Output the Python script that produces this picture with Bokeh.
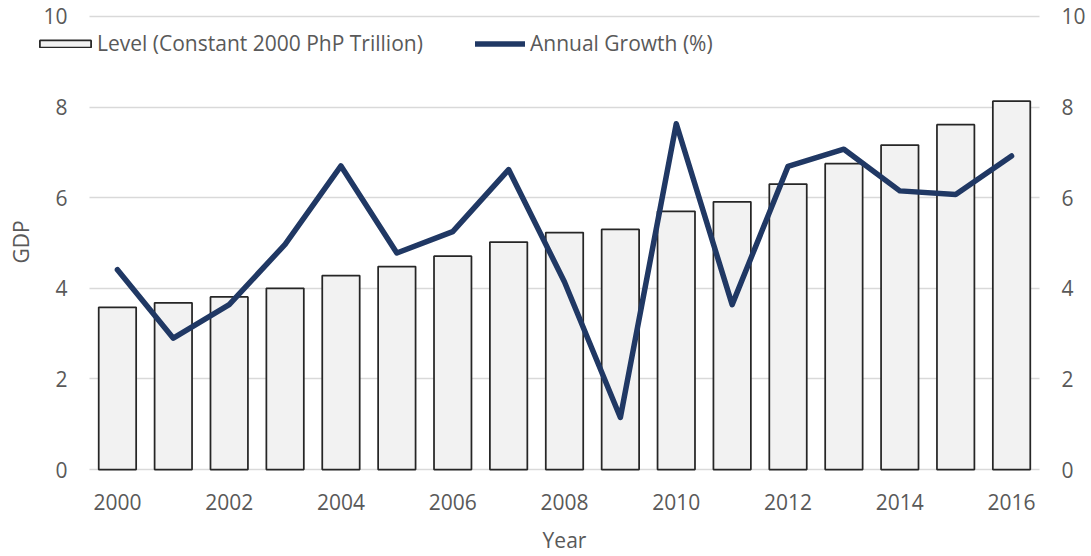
from bokeh.plotting import figure
from bokeh.models import Range1d, FixedTicker, Legend, LegendItem, LinearAxis, Title
from bokeh.embed import file_html
from bokeh.resources import INLINE

years = list(range(2000, 2017))
level = [3.58, 3.68, 3.81, 4.00, 4.28, 4.48, 4.71, 5.02, 5.23, 5.30,
         5.70, 5.91, 6.30, 6.75, 7.16, 7.61, 8.13]
growth = [4.41, 2.90, 3.64, 4.97, 6.70, 4.78, 5.25, 6.62, 4.14, 1.15,
          7.63, 3.64, 6.69, 7.07, 6.15, 6.07, 6.92]
x_ticks = list(range(2000, 2017, 2))
y_ticks = [0, 2, 4, 6, 8, 10]
y_lo, y_hi = 0, 10

FONT = "Open Sans"
FS = "21px"
GREY = "#595959"

# layout in pixels: the frame is larger than the plotted area so that the
# legend and the fixed-location axes are not clipped
W, H = 1091, 556
FRAME_L, FRAME_R, FRAME_T, FRAME_B = 37, 1091, 0, 486
PLOT_L, PLOT_R, PLOT_T, PLOT_B = 89, 1039, 16, 472

x_lo, x_hi = years[0] - 0.5, years[-1] + 0.5
ppx = (PLOT_R - PLOT_L) / (x_hi - x_lo)
x_start = x_lo - (PLOT_L - FRAME_L) / ppx
x_end = x_hi + (FRAME_R - PLOT_R) / ppx
ppy = (PLOT_B - PLOT_T) / (y_hi - y_lo)
y_start = y_lo - (FRAME_B - PLOT_B) / ppy
y_end = y_hi + (PLOT_T - FRAME_T) / ppy

p = figure(width=W, height=H, output_backend="svg", toolbar_location=None,
           x_range=Range1d(x_start, x_end), y_range=Range1d(y_start, y_end),
           min_border_left=FRAME_L, min_border_right=W - FRAME_R,
           min_border_top=FRAME_T, min_border_bottom=H - FRAME_B)
p.title.visible = False
p.extra_y_ranges = {"growth": Range1d(y_start, y_end)}
p.outline_line_color = None
p.background_fill_color = "white"

bars = p.vbar(x=years, top=level, width=0.67, fill_color="#f2f2f2",
              line_color="#262626", line_width=1.75)
line = p.line(years, growth, line_color="#203864", line_width=5.5,
              line_join="round", line_cap="round", y_range_name="growth")

right = LinearAxis(y_range_name="growth")
p.add_layout(right, "right")

for ax in [p.xaxis[0], p.yaxis[0], right]:
    ax.axis_line_color = None
    ax.major_tick_line_color = None
    ax.minor_tick_line_color = None
    ax.major_tick_out = 0
    ax.major_tick_in = 0
    ax.minor_tick_out = 0
    ax.major_label_text_font = FONT
    ax.major_label_text_font_size = FS
    ax.major_label_text_color = GREY
    ax.major_label_standoff = 22
    ax.axis_label_text_font = FONT
    ax.axis_label_text_font_size = FS
    ax.axis_label_text_color = GREY
    ax.axis_label_text_font_style = "normal"

p.yaxis[0].fixed_location = x_lo
right.fixed_location = x_hi
p.xaxis[0].ticker = FixedTicker(ticks=x_ticks)
p.yaxis[0].ticker = FixedTicker(ticks=y_ticks)
right.ticker = FixedTicker(ticks=y_ticks)
p.xaxis[0].axis_label = "Year"
p.xaxis[0].axis_label_standoff = 13
p.xaxis[0].major_label_standoff = 10

gdp = Title(text="GDP", align="center", text_font=FONT, text_font_size=FS,
            text_color=GREY, text_font_style="normal", standoff=6)
p.add_layout(gdp, "left")

p.xgrid.grid_line_color = None
p.ygrid.grid_line_color = "#d9d9d9"
p.ygrid.grid_line_width = 1.5
p.ygrid.ticker = FixedTicker(ticks=y_ticks)
p.ygrid.cross_bounds = (x_lo, x_hi)

common = dict(orientation="horizontal", background_fill_alpha=0,
              border_line_color=None, padding=0, margin=0,
              label_text_font=FONT, label_text_font_size=FS,
              label_text_color=GREY, glyph_height=9)
leg1 = Legend(items=[LegendItem(label="Level (Constant 2000 PhP Trillion)",
                                renderers=[bars])],
              location=(-4, 426), glyph_width=64, label_standoff=0, **common)
leg2 = Legend(items=[LegendItem(label="Annual Growth (%)", renderers=[line])],
              location=(438, 426), glyph_width=50, label_standoff=5, **common)
p.add_layout(leg1)
p.add_layout(leg2)

open("out.html", "w").write(file_html(p, INLINE))
